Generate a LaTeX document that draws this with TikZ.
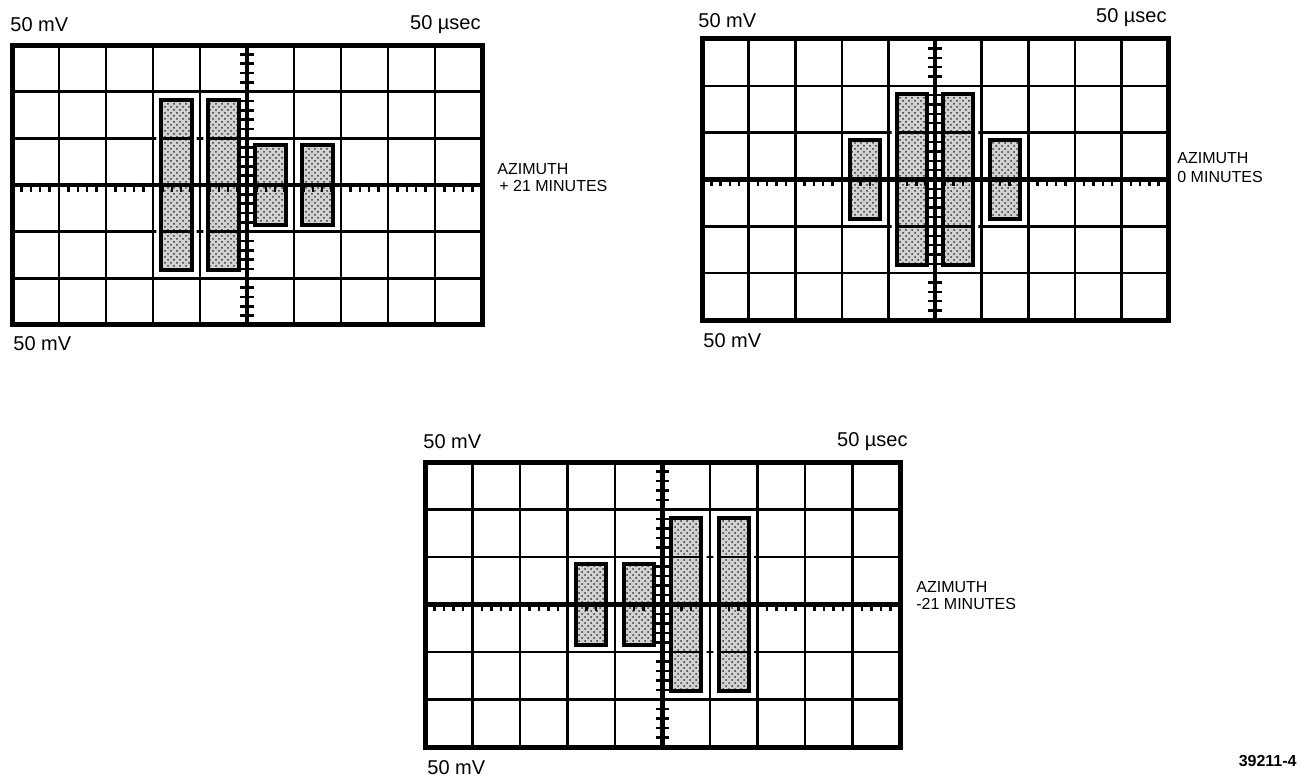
\documentclass[tikz,border=0pt]{standalone}
\usepackage{fontspec}
\setmainfont{Liberation Sans}
\usetikzlibrary{patterns}

\newcommand{\drawscreen}[5]{% origin (px), cell width, cell height, pulses
  \begin{scope}[shift={(#1,#2)}, x=#3, y=#4]
    \foreach \c/\h in {#5}
      \fill[stipple] (\c+0.18,-\h) rectangle (\c+0.82,\h);
    % grid, kept off the white halo round each pulse
    \begin{scope}[even odd rule]
      \clip (0,-3) rectangle (10,3)
        foreach \c/\h in {#5} {(\c+0.07,-\h-0.11) rectangle (\c+0.93,\h+0.11)
                               (\c+0.18,-\h) rectangle (\c+0.82,\h)};
      \foreach \i in {1,...,9} \draw[gridline] (\i,-3) -- (\i,3);
      \foreach \j in {-2,-1,1,2} \draw[gridline] (0,\j) -- (10,\j);
    \end{scope}
    \foreach \c/\h in {#5}
      \draw[pulse] (\c+0.18,-\h) rectangle (\c+0.82,\h);
    \draw[frame] (0,-3) rectangle (10,3);
    \draw[axis] (0,0) -- (10,0);
    \draw[axis] (5,-3) -- (5,3);
    \foreach \t in {0.2,0.4,...,9.9} \draw[tick] (\t,0.05) -- (\t,-0.14);
    \foreach \t in {-2.8,-2.6,...,2.9} \draw[tick] (4.86,\t) -- (5.14,\t);
  \end{scope}}

\begin{document}
\begin{tikzpicture}[
  x=0.5pt, y=-0.5pt,
  gridline/.style={line width=1.3pt},
  frame/.style={line width=2.5pt},
  axis/.style={line width=2.2pt},
  tick/.style={line width=1.2pt},
  pulse/.style={line width=2pt},
  stipple/.style={preaction={fill=gray!35}, pattern=crosshatch dots,
    pattern color=black!80},
  lbl/.style={font=\fontsize{10}{12}\selectfont, inner sep=0pt},
  azlbl/.style={font=\fontsize{8}{9.5}\selectfont, inner sep=0pt},
  numlbl/.style={font=\fontsize{8}{9.5}\selectfont\bfseries, inner sep=0pt},
]
\useasboundingbox (0,0) rectangle (1302,776);

% azimuth +21 minutes
\drawscreen{12}{185}{23.5pt}{23.33pt}{3/1.82,4/1.82,5/0.85,6/0.85}
\node[lbl, anchor=base west] (mvtop1) at (10,32) {50 mV};
\node[lbl, anchor=base east] (sec1) at (481,29) {50 µsec};
\node[lbl, anchor=base west] (mvbot1) at (13,350) {50 mV};
\node[azlbl, anchor=base west] (az1) at (497,174) {AZIMUTH};
\node[azlbl, anchor=base west] (min1) at (499,191) {+ 21 MINUTES};

% azimuth 0 minutes
\drawscreen{702}{179.5}{23.3pt}{23.42pt}{3/0.85,4/1.82,5/1.82,6/0.85}
\node[lbl, anchor=base west] (mvtop2) at (698,27) {50 mV};
\node[lbl, anchor=base east] (sec2) at (1167,23) {50 µsec};
\node[lbl, anchor=base west] (mvbot2) at (703,347) {50 mV};
\node[azlbl, anchor=base west] (az2) at (1177,163) {AZIMUTH};
\node[azlbl, anchor=base west] (min2) at (1177,182) {0 MINUTES};

% azimuth -21 minutes
\drawscreen{425}{604.5}{23.75pt}{23.75pt}{3/0.85,4/0.85,5/1.82,6/1.82}
\node[lbl, anchor=base west] (mvtop3) at (423,448) {50 mV};
\node[lbl, anchor=base east] (sec3) at (908,446) {50 µsec};
\node[lbl, anchor=base west] (mvbot3) at (427,774) {50 mV};
\node[azlbl, anchor=base west] (az3) at (916,592) {AZIMUTH};
\node[azlbl, anchor=base west] (min3) at (916,609) {-21 MINUTES};

\node[numlbl, anchor=base east] (fig) at (1297,766) {39211-4};
\end{tikzpicture}
\end{document}
